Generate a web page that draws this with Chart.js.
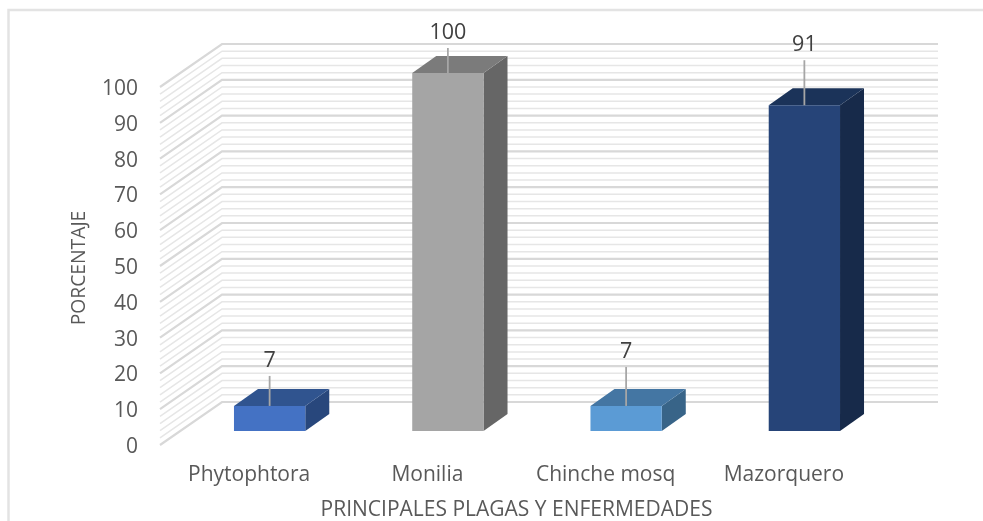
<!DOCTYPE html>
<html>
<head>
<meta charset="utf-8">
<script src="https://cdn.jsdelivr.net/npm/chart.js@4"></script>
<style>
  html, body { margin: 0; padding: 0; background: #fff; }
  canvas { display: block; }
</style>
</head>
<body>
<canvas id="chart" width="983" height="521"></canvas>
<script>
const categories = ['Phytophtora', 'Monilia', 'Chinche mosq', 'Mazorquero'];
const values = [7, 100, 7, 91];
const frontColors = ['#4472c4', '#a5a5a5', '#5b9bd5', '#264478'];
const topColors = ['#30548f', '#7b7b7b', '#4476a3', '#1b3359'];
const sideColors = ['#28477c', '#666666', '#386488', '#172a4a'];
const leaderLengths = [30, 25, 39, 45];

const WALL_DX = 62, WALL_DY = -43;   // depth of the 3d box
const WALL_EXTRA = 3;                // back wall runs a bit past the front plane
const WALL_SHIFT = -2;               // tick labels sit slightly under their grid lines
const BAR_DX = 20.5, BAR_DY = -16;   // where the bars sit inside it
const BAR_DEPTH_X = 24, BAR_DEPTH_Y = -17;
const FONT = '"Open Sans", sans-serif';

function poly(ctx, pts, fill) {
    ctx.beginPath();
    pts.forEach((p, i) => i ? ctx.lineTo(p[0], p[1]) : ctx.moveTo(p[0], p[1]));
    ctx.closePath();
    ctx.fillStyle = fill;
    ctx.fill();
}

const walls3d = {
    id: 'walls3d',
    beforeDatasetsDraw(chart) {
        const { ctx, scales: { x, y } } = chart;
        const left = x.left, right = x.right;
        ctx.save();
        // minor lines every 2 units, major every 10
        for (let v = 0; v <= 100; v += 2) {
            const py = y.getPixelForValue(v) + WALL_SHIFT;
            const major = v % 10 === 0;
            ctx.strokeStyle = major ? '#d8d8d8' : '#e6e6e6';
            ctx.lineWidth = major ? 2.2 : 1.5;
            ctx.beginPath();
            ctx.moveTo(left, py);
            ctx.lineTo(left + WALL_DX, py + WALL_DY);
            ctx.lineTo(right + WALL_DX + WALL_EXTRA, py + WALL_DY);
            ctx.stroke();
        }
        ctx.restore();
    },
    beforeDatasetDraw(chart) {
        const { ctx } = chart;
        ctx.save();
        ctx.translate(BAR_DX, BAR_DY);
        // sides and tops of the boxes, behind the front faces
        chart.getDatasetMeta(0).data.forEach((bar, i) => {
            const l = bar.x - bar.width / 2, r = bar.x + bar.width / 2;
            poly(ctx, [[r, bar.y], [r + BAR_DEPTH_X, bar.y + BAR_DEPTH_Y], [r + BAR_DEPTH_X, bar.base + BAR_DEPTH_Y], [r, bar.base]], sideColors[i]);
            poly(ctx, [[l, bar.y], [l + BAR_DEPTH_X, bar.y + BAR_DEPTH_Y], [r + BAR_DEPTH_X, bar.y + BAR_DEPTH_Y], [r, bar.y]], topColors[i]);
        });
    },
    afterDatasetDraw(chart) {
        const { ctx } = chart;
        // leader lines and value labels
        chart.getDatasetMeta(0).data.forEach((bar, i) => {
            const top = bar.y - leaderLengths[i];
            ctx.strokeStyle = '#a6a6a6';
            ctx.lineWidth = 1.8;
            ctx.beginPath();
            ctx.moveTo(bar.x, bar.y);
            ctx.lineTo(bar.x, top);
            ctx.stroke();
            ctx.fillStyle = '#404040';
            ctx.font = '21.5px ' + FONT;
            ctx.textAlign = 'center';
            ctx.textBaseline = 'middle';
            ctx.fillText(String(values[i]), bar.x, top - 15.5);
        });
        ctx.restore();
    },
    afterDraw(chart) {
        // outer frame, only top and left show in the picture
        const { ctx } = chart;
        ctx.save();
        ctx.strokeStyle = '#e3e3e3';
        ctx.lineWidth = 2.5;
        ctx.beginPath();
        ctx.moveTo(8.5, 521);
        ctx.lineTo(8.5, 10);
        ctx.lineTo(983, 10);
        ctx.stroke();
        ctx.restore();
    }
};

new Chart(document.getElementById('chart'), {
    type: 'bar',
    data: {
        labels: categories,
        datasets: [{
            data: values,
            backgroundColor: frontColors,
            barPercentage: 0.8,
            categoryPercentage: 0.5,
            clip: false
        }]
    },
    options: {
        responsive: false,
        animation: false,
        events: [],
        layout: { padding: { top: 89, right: 110, left: 0, bottom: 0 } },
        plugins: { legend: { display: false }, tooltip: { enabled: false } },
        scales: {
            x: {
                grid: { display: false, drawTicks: false },
                border: { display: false },
                ticks: { color: '#595959', font: { family: FONT, size: 21 }, padding: 15, maxRotation: 0, autoSkip: false },
                title: { display: true, text: 'PRINCIPALES PLAGAS Y ENFERMEDADES', color: '#595959', font: { family: FONT, size: 21 }, padding: { top: 0, bottom: -2 } },
                afterFit(scale) { scale.height = 74; }
            },
            y: {
                min: 0,
                max: 100,
                grid: { display: false, drawTicks: false },
                border: { display: false },
                ticks: { stepSize: 10, color: '#595959', font: { family: FONT, size: 21 }, padding: 22 },
                title: { display: true, text: 'PORCENTAJE', color: '#595959', font: { family: FONT, size: 19.3 }, padding: { top: 68, bottom: 0 } },
                afterFit(scale) { scale.width = 160; }
            }
        }
    },
    plugins: [walls3d]
});
</script>
</body>
</html>
